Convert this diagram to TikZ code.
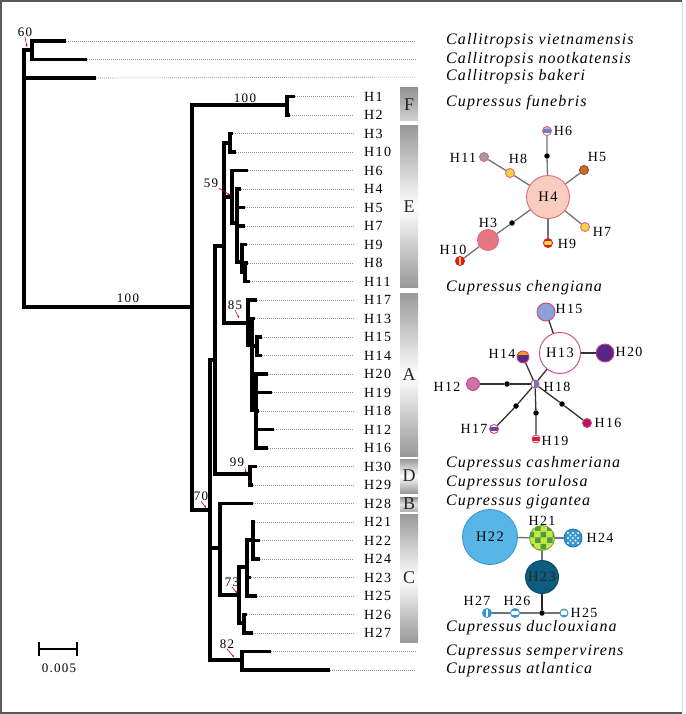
\documentclass[tikz,border=0pt]{standalone}
\usepackage{fontspec}
\setmainfont{Liberation Serif}
\newfontfamily\hapfont[LetterSpace=10]{Liberation Serif}
\newfontfamily\taxfont[LetterSpace=7]{Liberation Serif}
\usepackage{tikz}
\usetikzlibrary{arrows.meta, patterns}

\definecolor{edgegray}{RGB}{115,115,115}
\definecolor{hpink}{RGB}{225,105,130}
\definecolor{peach}{RGB}{248,205,192}
\definecolor{salmon}{RGB}{232,118,128}
\definecolor{hbrown}{RGB}{196,108,42}
\definecolor{hyellow}{RGB}{250,212,60}
\definecolor{hred}{RGB}{215,30,40}
\definecolor{hsteel}{RGB}{100,130,195}
\definecolor{hmag}{RGB}{205,70,130}
\definecolor{hlav}{RGB}{140,160,215}
\definecolor{hplum}{RGB}{88,38,134}
\definecolor{horchid}{RGB}{198,115,168}
\definecolor{hwine}{RGB}{180,20,94}
\definecolor{hviolet}{RGB}{110,70,150}
\definecolor{sky}{RGB}{88,182,230}
\definecolor{skyline}{RGB}{58,154,208}
\definecolor{teal}{RGB}{12,92,128}
\definecolor{lime}{RGB}{205,228,70}
\definecolor{hgreen}{RGB}{70,160,60}
\definecolor{hblue}{RGB}{50,150,210}

\tikzset{
  branch/.style={line width=3.2pt, line join=miter},
  dotline/.style={gray!85, line width=0.6pt, dash pattern=on 1pt off 1pt},
  haptip/.style={anchor=west, inner sep=1pt, font=\hapfont\fontsize{14}{14}\selectfont},
  taxon/.style={anchor=west, inner sep=1pt, font=\taxfont\itshape\fontsize{16}{16}\selectfont},
  boot/.style={inner sep=0.5pt, font=\hapfont\fontsize{13}{13}\selectfont},
  ptr/.style={red!80!black, line width=0.6pt, -{Stealth[length=2.5pt,width=2pt]}},
  clade/.style={minimum width=18pt, inner sep=0pt, top color=gray!80, bottom color=gray!80,
    middle color=white, text=black!85, font=\fontsize{18}{18}\selectfont},
  hap/.style={circle, draw=#1, line width=0.9pt, inner sep=0pt, font=\hapfont\fontsize{14.5}{14.5}\selectfont},
  mv/.style={circle, fill=black, minimum size=5.5pt, inner sep=0pt},
  nlab/.style={inner sep=0.5pt, font=\hapfont\fontsize{14}{14}\selectfont},
  net/.style={edgegray, line width=1.3pt},
  bands/.style n args={3}{path picture={
    \fill[#1] (path picture bounding box.north west) rectangle ([yshift=1.6pt]path picture bounding box.east);
    \fill[#2] ([yshift=1.6pt]path picture bounding box.west) rectangle ([yshift=-1.6pt]path picture bounding box.east);
    \fill[#3] ([yshift=-1.6pt]path picture bounding box.west) rectangle (path picture bounding box.south east);}},
  vbands/.style n args={3}{path picture={
    \fill[#1] (path picture bounding box.north west) rectangle ([xshift=-1.4pt]path picture bounding box.south);
    \fill[#2] ([xshift=-1.4pt]path picture bounding box.north) rectangle ([xshift=1.4pt]path picture bounding box.south);
    \fill[#3] ([xshift=1.4pt]path picture bounding box.north) rectangle (path picture bounding box.south east);}},
  dotty/.style={path picture={
    \foreach \dx/\dy in {-5/-5,0/-5,5/-5,-5/0,0/0,5/0,-5/5,0/5,5/5,-2.5/-2.5,2.5/-2.5,-2.5/2.5,2.5/2.5}
      \fill[white] ([xshift=\dx pt, yshift=\dy pt]path picture bounding box.center) circle (1.1pt);}}
}

\begin{document}
\begin{tikzpicture}[x=1pt, y=-1pt]
  \useasboundingbox (0,0) rectangle (685,714);
  \fill[white] (0,0) rectangle (685,714);
  \draw[gray!70!black, line width=1.6pt] (682,1) -- (1,1) -- (1,713) -- (682,713);
  \draw[gray!30, line width=1pt] (682,1) -- (682,713);
%--------------------------------------------------------------------------------
% outgroup and species tips
  \coordinate (tviet) at (66,41);
  \coordinate (tnoot) at (87,59.5);
  \coordinate (tbak) at (96,78);
  \coordinate (tsemp) at (271,651.5);
  \coordinate (tatl) at (330,670);
  \node[taxon] (sviet) at (445,41) {Callitropsis vietnamensis};
  \node[taxon] (snoot) at (445,59.5) {Callitropsis nootkatensis};
  \node[taxon] (sbak) at (445,77) {Callitropsis bakeri};
  \node[taxon] (ssemp) at (445,651.5) {Cupressus sempervirens};
  \node[taxon] (satl) at (445,670) {Cupressus atlantica};
  \foreach \t/\s in {tviet/sviet, tnoot/snoot, tbak/sbak, tsemp/ssemp, tatl/satl}
    \draw[dotline, shorten >=29pt] (\t) -- (\s.west);
  \node[taxon] (sfun) at (445,103) {Cupressus funebris};
  \node[taxon] (scheng) at (445,288) {Cupressus chengiana};
  \node[taxon] (scash) at (445,464) {Cupressus cashmeriana};
  \node[taxon] (storu) at (445,483) {Cupressus torulosa};
  \node[taxon] (sgig) at (445,502) {Cupressus gigantea};
  \node[taxon] (sduc) at (445,628) {Cupressus duclouxiana};
%--------------------------------------------------------------------------------
% haplotype tips
  \foreach \i/\hap/\xe in {3/H1/295, 4/H2/290, 5/H3/233, 6/H10/236, 7/H6/248, 8/H4/241,
      9/H5/245, 10/H7/245, 11/H9/247, 12/H8/248, 13/H11/250, 14/H17/257, 15/H13/255,
      16/H15/262, 17/H14/262, 18/H20/268, 19/H19/272, 20/H18/259, 21/H12/274, 22/H16/268,
      23/H30/257, 24/H29/253, 25/H28/253, 26/H21/255, 27/H22/260, 28/H24/260, 29/H23/251,
      30/H25/257, 31/H26/247, 32/H27/253}{
    \coordinate (t\hap) at (\xe,{41+18.5*\i});
    \node[haptip] (l\hap) at (363,{41+18.5*\i}) {\hap};
    \draw[dotline, shorten >=9pt] (t\hap) -- (l\hap.west);
  }
%--------------------------------------------------------------------------------
% internal nodes
  \coordinate (root) at (24,180);
  \coordinate (call) at (32,50);
  \coordinate (cup) at (192,307);
  \coordinate (fun) at (287,105);
  \coordinate (q70) at (210,510);
  \coordinate (p) at (215,360);
  \coordinate (r) at (224,246);
  \coordinate (e1) at (230,143);
  \coordinate (e59) at (232,197);
  \coordinate (e2) at (237,223);
  \coordinate (e3) at (242,262);
  \coordinate (e4) at (245,272);
  \coordinate (a85) at (248,323);
  \coordinate (a2) at (252,345);
  \coordinate (a3) at (257,346);
  \coordinate (a4) at (256,410);
  \coordinate (d99) at (250,474);
  \coordinate (bc) at (220,548);
  \coordinate (c73) at (239,595);
  \coordinate (c2) at (247,567);
  \coordinate (c4) at (253,540);
  \coordinate (c3) at (244,623);
  \coordinate (sa82) at (242,660);
  \draw[branch] (root) |- (call) (root) |- (tbak) (root) |- (cup)
    (call) |- (tviet) (call) |- (tnoot)
    (cup) |- (fun) (cup) |- (q70)
    (fun) |- (tH1) (fun) |- (tH2)
    (q70) |- (p) (q70) |- (bc) (q70) |- (sa82)
    (p) |- (r) (p) |- (d99)
    (r) |- (e1) (r) |- (e59) (r) |- (a85)
    (e1) |- (tH3) (e1) |- (tH10)
    (e59) |- (tH6) (e59) |- (e2)
    (e2) |- (tH4) (e2) |- (tH5) (e2) |- (tH7) (e2) |- (e3)
    (e3) |- (tH9) (e3) |- (e4)
    (e4) |- (tH8) (e4) |- (tH11)
    (a85) |- (tH17) (a85) |- (a2)
    (a2) |- (tH13) (a2) |- (a3) (a2) |- (a4)
    (a3) |- (tH15) (a3) |- (tH14)
    (a4) |- (tH20) (a4) |- (tH19) (a4) |- (tH18) (a4) |- (tH12) (a4) |- (tH16)
    (d99) |- (tH30) (d99) |- (tH29)
    (bc) |- (tH28) (bc) |- (c73)
    (c73) |- (c2) (c73) |- (c3)
    (c2) |- (c4) (c2) |- (tH23) (c2) |- (tH25)
    (c4) |- (tH21) (c4) |- (tH22) (c4) |- (tH24)
    (c3) |- (tH26) (c3) |- (tH27)
    (sa82) |- (tsemp) (sa82) |- (tatl);
%--------------------------------------------------------------------------------
% bootstrap values
  \node[boot] (b60) at (25,32) {60};
  \node[boot] (b100a) at (245,98) {100};
  \node[boot] (b100b) at (128,298) {100};
  \node[boot] (b59) at (211,183) {59};
  \node[boot] (b85) at (235,305) {85};
  \node[boot] (b99) at (237,462) {99};
  \node[boot] (b70) at (201,496) {70};
  \node[boot] (b73) at (232,582) {73};
  \node[boot] (b82) at (227,644) {82};
  \coordinate (p60) at (27,47);
  \coordinate (p59) at (230,195);
  \coordinate (p85) at (239,318);
  \coordinate (p99) at (246,473);
  \coordinate (p70) at (206,508);
  \coordinate (p73) at (237,593);
  \coordinate (p82) at (234,657);
  \draw[ptr] (b60.south) -- (p60);
  \draw[ptr] (b59.south east) -- (p59);
  \draw[ptr] (b85.south) -- (p85);
  \draw[ptr] (b99.south east) -- (p99);
  \draw[ptr] (b70.south) -- (p70);
  \draw[ptr] (b73.south) -- (p73);
  \draw[ptr] (b82.south) -- (p82);
%--------------------------------------------------------------------------------
% clade bars
  \node[clade, minimum height=33pt, top color=gray!85, bottom color=gray!35] (cF) at (409,104.5) {F};
  \node[clade, minimum height=161pt] (cE) at (409,206.5) {E};
  \node[clade, minimum height=163pt] (cA) at (409,374.5) {A};
  \node[clade, minimum height=34pt] (cD) at (409,476) {D};
  \node[clade, minimum height=14pt, top color=gray!85, bottom color=gray!60, middle color=gray!25] (cB) at (409,504) {B};
  \node[clade, minimum height=128pt] (cC) at (409,578) {C};
%--------------------------------------------------------------------------------
% scale bar
  \draw[line width=2.8pt] (39,649) -- (77,649);
  \draw[line width=2.8pt] (39,642) -- (39,656) (77,642) -- (77,656);
  \node[boot] (scale) at (59,668) {0.005};
%--------------------------------------------------------------------------------
% network E
  \node[hap=hpink, fill=peach, minimum size=43pt] (n4) at (548,197) {H4};
  \node[hap=hpink, minimum size=9pt, bands={hpink!60}{hsteel}{white}] (n6) at (547,131) {};
  \node[mv] (mE1) at (547,156) {};
  \node[hap=hbrown!70!black, fill=hbrown, minimum size=9pt] (n5) at (584,170) {};
  \node[hap=hpink, fill=gray!75, minimum size=9pt] (n11) at (484,157) {};
  \node[hap=hpink, fill=hyellow, minimum size=9pt] (n8) at (510,173) {};
  \node[hap=hpink, fill=hyellow, minimum size=9pt] (n7) at (585,227) {};
  \node[hap=hred, minimum size=9pt, bands={hred}{hyellow}{hred}] (n9) at (548,243) {};
  \node[mv] (mE2) at (512,223) {};
  \node[hap=hpink, fill=salmon, minimum size=21pt] (n3) at (488,240) {};
  \node[hap=hred, minimum size=9pt, vbands={hred}{hyellow}{hred}] (n10) at (460,261) {};
  \draw[net] (n4) -- (mE1) -- (n6);
  \draw[net] (n4) -- (n5);
  \draw[net] (n4) -- (n7);
  \draw[net] (n4) -- (n9);
  \draw[net] (n4) -- (n8) -- (n11);
  \draw[net] (n4) -- (mE2) -- (n3) -- (n10);
  \node[nlab] (l6n) at (563,131) {H6};
  \node[nlab] (l11n) at (463,158) {H11};
  \node[nlab] (l8n) at (518,159) {H8};
  \node[nlab] (l5n) at (597,157) {H5};
  \node[nlab] (l3n) at (488,223) {H3};
  \node[nlab] (l7n) at (602,232) {H7};
  \node[nlab] (l9n) at (567,244) {H9};
  \node[nlab] (l10n) at (453,250) {H10};
%--------------------------------------------------------------------------------
% network A
  \node[hap=hmag, fill=white, minimum size=41pt] (n13) at (560,353) {H13};
  \node[hap=hmag, fill=hlav, minimum size=18pt] (n15) at (546,312) {};
  \node[hap=hmag, fill=hplum, minimum size=18pt] (n20) at (605,353) {};
  \node[hap=hmag, minimum size=8pt, vbands={white}{hsteel}{hsteel}] (n18) at (535,384) {};
  \node[hap=hmag, minimum size=12pt, bands={orange!80!yellow}{hplum}{hplum}] (n14) at (523,357) {};
  \node[hap=hmag, fill=horchid, minimum size=13pt] (n12) at (473,384) {};
  \node[hap=hmag, fill=hwine, minimum size=9pt] (n16) at (587,423) {};
  \node[hap=hmag, minimum size=8pt, bands={white}{hred}{white}] (n19) at (536,439) {};
  \node[hap=hmag, minimum size=9pt, bands={white}{hviolet}{white}] (n17) at (494,429) {};
  \node[mv] (mA1) at (507,384) {};
  \node[mv] (mA2) at (516,406) {};
  \node[mv] (mA3) at (536,413) {};
  \node[mv] (mA4) at (562,404) {};
  \draw[net, black!80] (n13) -- (n15);
  \draw[net, black!80] (n13) -- (n20);
  \draw[net, black!80] (n13) -- (n18);
  \draw[net, black!80] (n14) -- (n18);
  \draw[net, black!80] (n18) -- (mA1) -- (n12);
  \draw[net, black!80] (n18) -- (mA2) -- (n17);
  \draw[net, black!80] (n18) -- (mA3) -- (n19);
  \draw[net, black!80] (n18) -- (mA4) -- (n16);
  \node[nlab] (l15n) at (569,309) {H15};
  \node[nlab] (l20n) at (629,352) {H20};
  \node[nlab] (l14n) at (502,354) {H14};
  \node[nlab] (l12n) at (447,387) {H12};
  \node[nlab] (l18n) at (557,387) {H18};
  \node[nlab] (l17n) at (474,429) {H17};
  \node[nlab] (l16n) at (608,423) {H16};
  \node[nlab] (l19n) at (555,441) {H19};
%--------------------------------------------------------------------------------
% network C
  \node[hap=skyline, fill=sky, minimum size=55pt] (n22) at (490,537) {H22};
  \node[hap=hgreen!70!lime, fill=lime, postaction={pattern=checkerboard, pattern color=hgreen}, minimum size=25pt] (n21) at (542,538) {};
  \node[hap=hblue!80!black, fill=hblue, dotty, minimum size=18pt] (n24) at (573,538) {};
  \node[hap=teal!80!black, fill=teal, text=black!85, minimum size=33pt] (n23) at (542,577) {H23};
  \node[mv] (mC) at (542,613) {};
  \node[hap=hblue, minimum size=8pt, bands={lime}{white}{hblue}] (n25) at (564,613) {};
  \node[hap=hblue, minimum size=9pt, bands={hblue}{white}{hblue}] (n26) at (515,613) {};
  \node[hap=hblue, minimum size=9pt, vbands={hblue}{white}{hblue}] (n27) at (487,613) {};
  \draw[net] (n22) -- (n21);
  \draw[net] (n21) -- (n24);
  \draw[net] (n21) -- (n23);
  \draw[net, black!85] (n23) -- (mC);
  \draw[net] (mC) -- (n25);
  \draw[net] (mC) -- (n26) -- (n27);
  \node[nlab] (l21n) at (542,521) {H21};
  \node[nlab] (l24n) at (600,538) {H24};
  \node[nlab] (l27n) at (477,601) {H27};
  \node[nlab] (l26n) at (517,601) {H26};
  \node[nlab] (l25n) at (584,613) {H25};
\end{tikzpicture}
\end{document}
